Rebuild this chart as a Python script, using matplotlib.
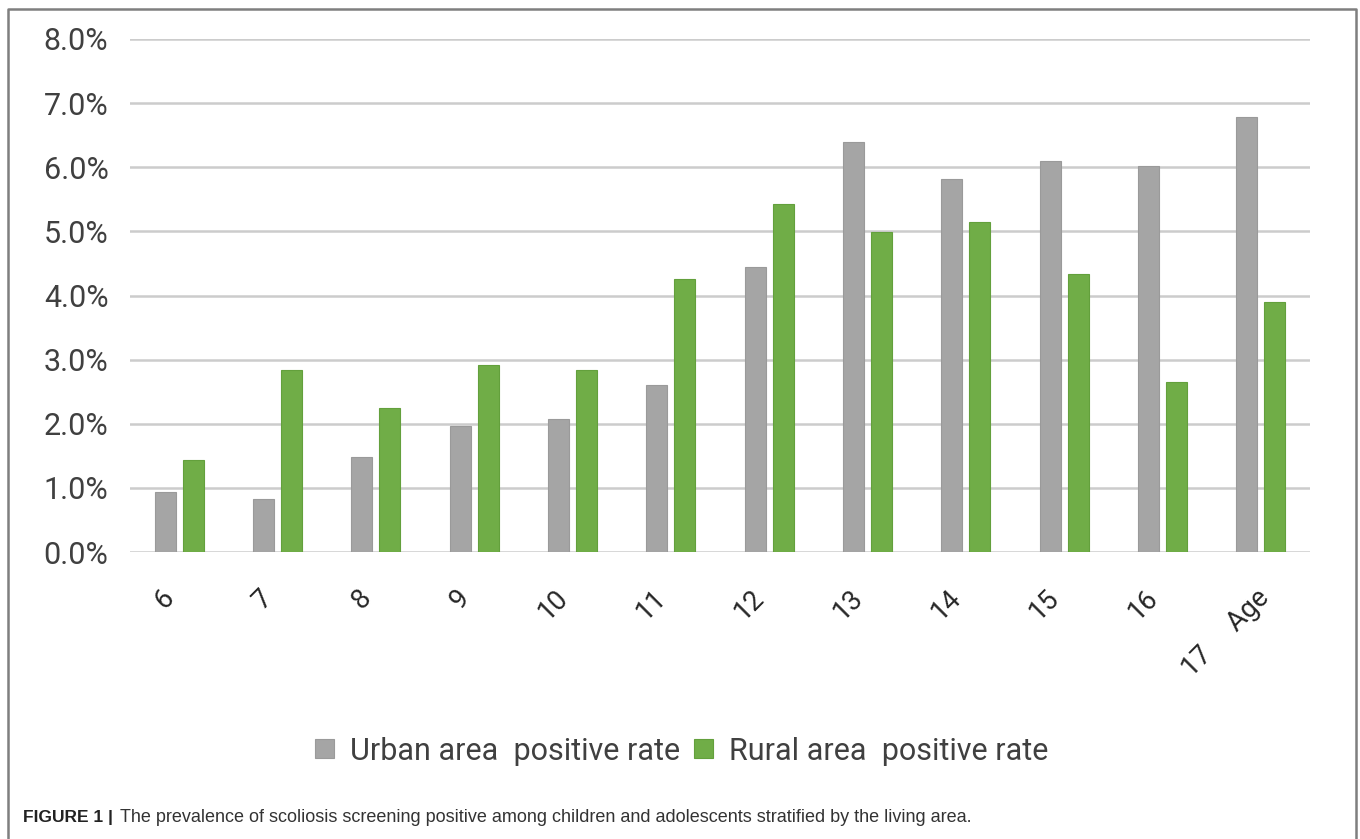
import numpy as np
import matplotlib.pyplot as plt
import matplotlib.transforms as mtransforms
from matplotlib.lines import Line2D
from matplotlib.ticker import PercentFormatter

ages = ['6', '7', '8', '9', '10', '11', '12', '13', '14', '15', '16', '17     Age']
urban = [0.94, 0.83, 1.48, 1.97, 2.07, 2.60, 4.45, 6.40, 5.82, 6.10, 6.02, 6.78]
rural = [1.43, 2.84, 2.25, 2.92, 2.84, 4.25, 5.43, 4.99, 5.15, 4.34, 2.65, 3.90]
yticks = [0, 1, 2, 3, 4, 5, 6, 7, 8]

plt.rcParams['font.family'] = ['Roboto', 'DejaVu Sans']

fig = plt.figure(figsize=(13.6, 8.39), dpi=100)
ax = fig.add_axes([130/1360, 1-552/839, 1180/1360, (552-39)/839])

x = np.arange(len(ages))
w = 0.215
ax.bar(x - 0.143, urban, w, color='#A5A5A5', edgecolor='#9A9A9A', linewidth=0.8,
       label='Urban area  positive rate', zorder=3)
ax.bar(x + 0.143, rural, w, color='#70AD47', edgecolor='#63A03C', linewidth=0.8,
       label='Rural area  positive rate', zorder=3)

ax.set_xlim(-0.5, len(ages) - 0.5)
ax.set_ylim(0, 8)
ax.set_yticks(yticks)
ax.yaxis.set_major_formatter(PercentFormatter(decimals=1))
ax.grid(axis='y', color='#CCCCCC', linewidth=1.8, zorder=0)
for s in ax.spines.values():
    s.set_visible(False)
ax.tick_params(axis='y', length=0, pad=15.5, labelsize=22, labelcolor='#404040')
ax.tick_params(axis='x', length=0, pad=30, labelsize=19.5, labelcolor='#262626')
ax.set_xticks(x)
ax.set_xticklabels(ages, rotation=45, ha='right', va='center', rotation_mode='anchor')
# nudge the rotated labels a bit to the left, as in the original (last one sits further right)
labels = ax.get_xticklabels()
for i, lab in enumerate(labels):
    dx = 4 if i == len(labels) - 1 else -9
    lab.set_transform(lab.get_transform()
                      + mtransforms.ScaledTranslation(dx/100, 0, fig.dpi_scale_trans))

fig.legend(loc='center', bbox_to_anchor=(682/1360, 1-751/839), ncol=2,
           frameon=False, fontsize=22, handlelength=0.6, handleheight=0.6,
           handletextpad=0.55, columnspacing=0.45, labelcolor='#404040')

# frame: top plus both sides, running down past the caption
fig.add_artist(Line2D([8/1360, 8/1360, 1356/1360, 1356/1360],
                      [0, 1-9/839, 1-9/839, 0], transform=fig.transFigure,
                      color='#7F7F7F', linewidth=1.8))

fig.text(23/1360, 1-822/839, 'FIGURE 1 |', fontsize=12.5, fontweight='bold',
         family='Liberation Sans', va='baseline', color='#222222')
fig.text(120/1360, 1-822/839,
         'The prevalence of scoliosis screening positive among children and adolescents stratified by the living area.',
         fontsize=13, family='Liberation Sans', va='baseline', color='#333333')

fig.savefig('out.png', dpi=100)
